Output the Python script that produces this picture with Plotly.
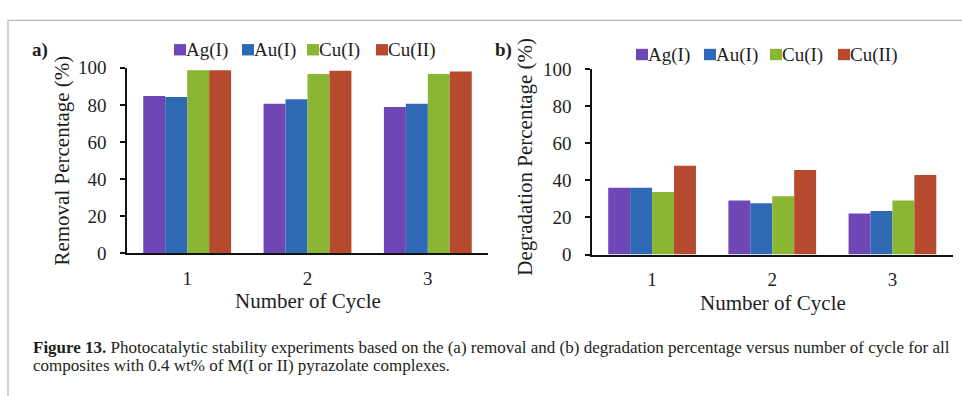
import plotly.graph_objects as go

# ---- data -------------------------------------------------------------
cycles = ["1", "2", "3"]
series_names = ["Ag(I)", "Au(I)", "Cu(I)", "Cu(II)"]

removal_ag = [84.8, 80.6, 78.9]
removal_au = [84.3, 83.1, 80.6]
removal_cu1 = [98.6, 96.6, 96.6]
removal_cu2 = [98.6, 98.4, 98.0]

degradation_ag = [36.0, 29.1, 22.1]
degradation_au = [36.0, 27.7, 23.5]
degradation_cu1 = [33.7, 31.4, 29.2]
degradation_cu2 = [47.9, 45.6, 42.9]

y_ticks = [0, 20, 40, 60, 80, 100]

caption_line1 = ("<b>Figure 13.</b> Photocatalytic stability experiments based on the (a) removal "
                 "and (b) degradation percentage versus number of cycle for all")
caption_line2 = "composites with 0.4 wt% of M(I or II) pyrazolate complexes."

# ---- style ------------------------------------------------------------
colors = ["#6F46B6", "#2F69B6", "#8BB634", "#B54A2F"]
W, H = 962, 396
FONT = "Liberation Serif, Times New Roman, serif"
TXT = "#1e1e1e"


def px(x):
    return x / W


def py(y):
    return 1 - y / H


removal = [removal_ag, removal_au, removal_cu1, removal_cu2]
degradation = [degradation_ag, degradation_au, degradation_cu1, degradation_cu2]

fig = go.Figure()
for name, vals, c in zip(series_names, removal, colors):
    fig.add_trace(go.Bar(x=cycles, y=vals, name=name, marker_color=c,
                         marker_line_width=0, showlegend=False,
                         xaxis="x", yaxis="y"))
for name, vals, c in zip(series_names, degradation, colors):
    fig.add_trace(go.Bar(x=cycles, y=vals, name=name, marker_color=c,
                         marker_line_width=0, showlegend=False,
                         xaxis="x2", yaxis="y2"))

yaxis_common = dict(range=[0, 100], tickvals=y_ticks, ticks="outside", ticklen=5,
                    tickwidth=1.5, tickcolor="#111", showline=True, linecolor="#111",
                    linewidth=1.5, showgrid=False, zeroline=False,
                    tickfont=dict(family=FONT, size=19, color=TXT),
                    ticklabelstandoff=10, fixedrange=True)
xaxis_common = dict(type="category", range=[-0.5, 2.5], showline=True, linecolor="#111",
                    linewidth=2, ticks="", showgrid=False, zeroline=False,
                    tickfont=dict(family=FONT, size=19, color=TXT),
                    ticklabelstandoff=7, fixedrange=True)

fig.update_layout(
    width=W, height=H,
    margin=dict(l=0, r=0, t=0, b=0),
    paper_bgcolor="white", plot_bgcolor="white",
    barmode="group", bargap=0.27, bargroupgap=0,
    xaxis=dict(domain=[px(127), px(488)], anchor="y", **xaxis_common),
    yaxis=dict(domain=[py(257), py(61)], anchor="x", **yaxis_common),
    xaxis2=dict(domain=[px(592), px(952.5)], anchor="y2", **xaxis_common),
    yaxis2=dict(domain=[py(258.3), py(62.3)], anchor="x2", **yaxis_common),
    font=dict(family=FONT, color=TXT),
)

annotations = []
shapes = []

# page frame
shapes.append(dict(type="rect", xref="paper", yref="paper",
                   x0=px(8), x1=px(980), y0=py(420), y1=py(11),
                   line=dict(color="#b9b9b9", width=1.3), fillcolor="rgba(0,0,0,0)"))

# panel labels
annotations.append(dict(text="<b>a)</b>", x=px(30), y=py(42), xref="paper", yref="paper",
                        xanchor="left", yanchor="middle", showarrow=False,
                        font=dict(family=FONT, size=19, color=TXT)))
annotations.append(dict(text="<b>b)</b>", x=px(493), y=py(42), xref="paper", yref="paper",
                        xanchor="left", yanchor="middle", showarrow=False,
                        font=dict(family=FONT, size=19, color=TXT)))

# axis titles
annotations.append(dict(text="Removal Percentage (%)", x=px(62), y=py(159), xref="paper",
                        yref="paper", textangle=-90, xanchor="center", yanchor="middle",
                        showarrow=False, font=dict(family=FONT, size=21, color=TXT)))
annotations.append(dict(text="Degradation Percentage (%)", x=px(525), y=py(155), xref="paper",
                        yref="paper", textangle=-90, xanchor="center", yanchor="middle",
                        showarrow=False, font=dict(family=FONT, size=21, color=TXT)))
annotations.append(dict(text="Number of Cycle", x=px(308), y=py(307), xref="paper",
                        yref="paper", xanchor="center", yanchor="middle",
                        showarrow=False, font=dict(family=FONT, size=21, color=TXT)))
annotations.append(dict(text="Number of Cycle", x=px(773), y=py(309), xref="paper",
                        yref="paper", xanchor="center", yanchor="middle",
                        showarrow=False, font=dict(family=FONT, size=21, color=TXT)))

# legends (colour square followed by label)
legend_rows = [
    (42, [174, 242, 307, 376]),
    (47, [636, 704, 770, 838]),
]
sq = 12
for ly, xs in legend_rows:
    for x0, name, c in zip(xs, series_names, colors):
        shapes.append(dict(type="rect", xref="paper", yref="paper",
                           x0=px(x0), x1=px(x0 + sq), y0=py(ly + sq / 2), y1=py(ly - sq / 2),
                           line=dict(width=0), fillcolor=c))
        annotations.append(dict(text=name, x=px(x0 + sq), y=py(ly), xref="paper",
                                yref="paper", xanchor="left", yanchor="middle",
                                showarrow=False, xshift=-2,
                                font=dict(family=FONT, size=19, color=TXT)))

# caption
annotations.append(dict(text=caption_line1, x=px(31), y=py(356), xref="paper", yref="paper",
                        xanchor="left", yanchor="middle", showarrow=False,
                        font=dict(family=FONT, size=17, color="#231f20")))
annotations.append(dict(text=caption_line2, x=px(31), y=py(375), xref="paper", yref="paper",
                        xanchor="left", yanchor="middle", showarrow=False,
                        font=dict(family=FONT, size=17, color="#231f20")))

fig.update_layout(annotations=annotations, shapes=shapes)
fig.write_html("out.html")
